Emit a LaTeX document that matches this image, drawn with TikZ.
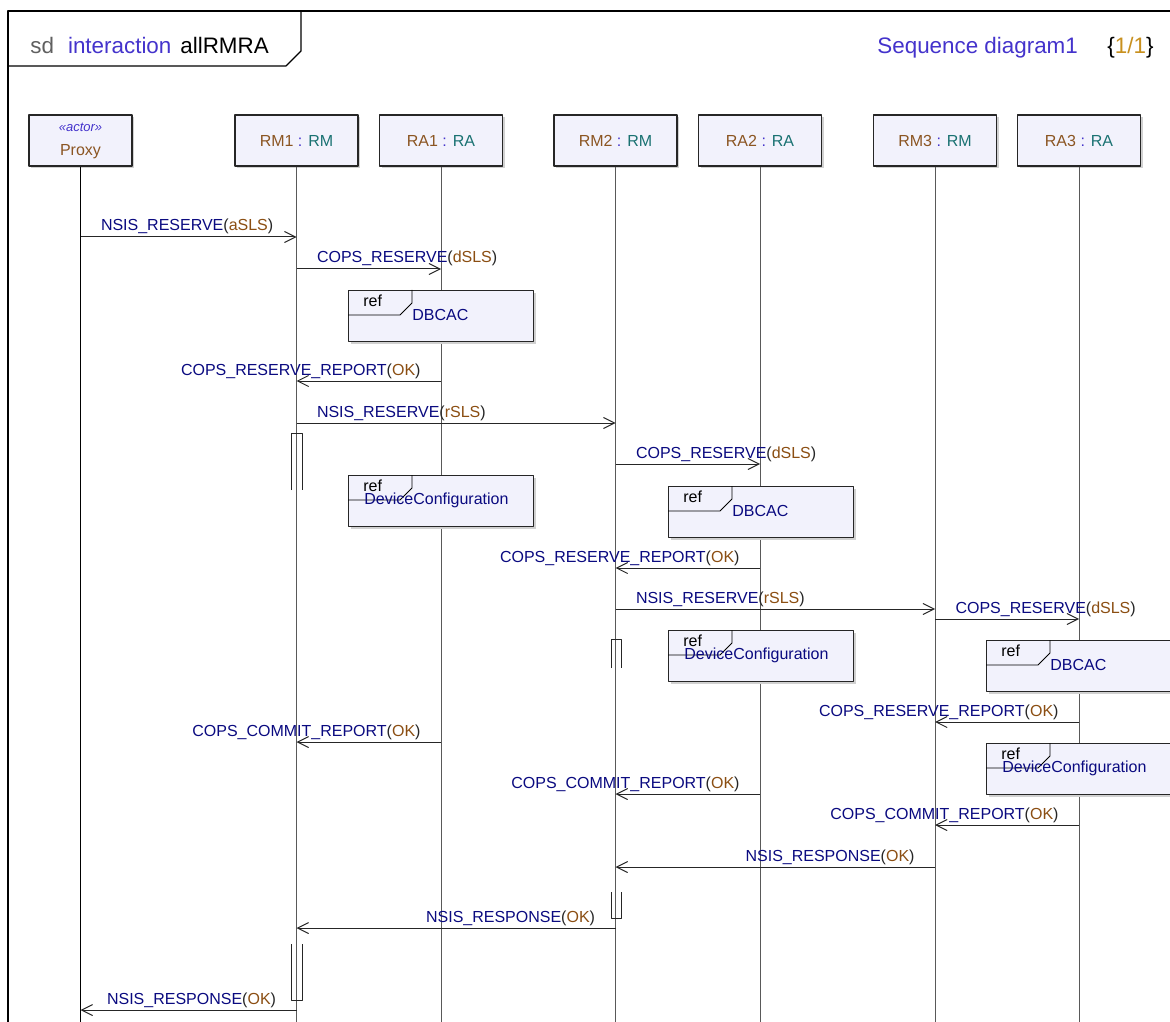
\documentclass[tikz,border=0pt]{standalone}
\usepackage{fontspec}
\setmainfont{Liberation Sans}
\usetikzlibrary{arrows.meta,calc,shadows}

\definecolor{msgblue}{HTML}{0A0A80}
\definecolor{parbrown}{HTML}{8B4E12}
\definecolor{kwblue}{HTML}{4433CC}
\definecolor{tealhd}{HTML}{1A7272}
\definecolor{brownhd}{HTML}{8B5522}
\definecolor{headfill}{HTML}{F2F2FC}
\definecolor{sdgray}{HTML}{606060}
\definecolor{goldhd}{HTML}{C8901E}

% 消息标签与生命线头
\newcommand{\mlabel}[2]{\textcolor{msgblue}{#1}(\textcolor{parbrown}{#2})}
\newcommand{\hlabel}[2]{\textcolor{brownhd}{#1} \textcolor{kwblue}{:} \textcolor{tealhd}{#2}}

% 向右 / 向左的消息
\newcommand{\msgR}[5]{\draw[msg] (#1 |- 0,#3) -- (#2 |- 0,#3)
  node[pos=0, anchor=base west, xshift=10pt, yshift=3pt, lbl] {\mlabel{#4}{#5}};}
\newcommand{\msgL}[5]{\draw[msg] (#1 |- 0,#3) -- (#2 |- 0,#3)
  node[pos=0, anchor=base east, xshift=-10pt, yshift=3pt, lbl] {\mlabel{#4}{#5}};}

% ref 框
\newcommand{\refframe}[3]{\node[refbox] (#1) at (#2,#3) {};
  \draw[thin] ($(#1.north west)+(0,25)$) -- ++(52,0) -- ++(12,-12) -- ($(#1.north west)+(64,0)$);
  \node[lbl, anchor=west, text=black] (#1t) at ($(#1.north west)+(15,11)$) {ref};}

\begin{document}
\begin{tikzpicture}[x=0.5pt, y=-0.5pt, line join=round,
    head/.style={draw=black!85, fill=headfill, line width=0.6pt, minimum width=61.5pt,
      minimum height=25.5pt, inner sep=0pt, font=\fontsize{8}{10}\selectfont,
      drop shadow={shadow xshift=1.2pt, shadow yshift=-1.2pt, fill=black!18, opacity=1}},
    refbox/.style={draw=black!85, fill=headfill, line width=0.6pt, minimum width=92.5pt,
      minimum height=25.5pt, inner sep=0pt, anchor=north west,
      drop shadow={shadow xshift=1.2pt, shadow yshift=-1.2pt, fill=black!18, opacity=1}},
    life/.style={black!65, line width=0.5pt},
    msg/.style={black!85, line width=0.5pt, -{Straight Barb[length=5.5pt, width=5.5pt]}},
    act/.style={black!85, line width=0.5pt},
    lbl/.style={inner sep=0pt, font=\fontsize{8}{10}\selectfont},
    ttl/.style={inner sep=0pt, anchor=base west, font=\fontsize{11.2}{13}\selectfont}]
    % 画布
    \useasboundingbox (0,0) rectangle (1170,1021);
    \fill[white] (0,0) rectangle (1170,1021);
    \clip (0,0) rectangle (1170,1021);

    % 外框与标题
    \draw[line width=0.75pt] (8,1100) -- (8,11) -- (1250,11);
    \draw[line width=0.6pt] (8,66) -- (286,66) -- (301,51) -- (301,11);
    \node[ttl] (title) at (30,54) {\textcolor{sdgray}{sd}\hspace{7pt}\textcolor{kwblue}{interaction}\hspace{4.5pt}allRMRA};
    \node[ttl, text=kwblue] (diag) at (877,54) {Sequence diagram1};
    \node[ttl] (page) at (1107,54) {\{\textcolor{goldhd}{1/1}\}};

    % 生命线头
    \node[head, minimum width=51.5pt, align=center] (proxy) at (80.5,140.5)
      {{\fontsize{6.5}{7}\selectfont\itshape\textcolor{kwblue}{\textless\textless actor\textgreater\textgreater}}\\[2pt]
       {\textcolor{brownhd}{Proxy}}};
    \node[head] (rm1) at (296.5,140.5) {\hlabel{RM1}{RM}};
    \node[head] (ra1) at (441,140.5) {\hlabel{RA1}{RA}};
    \node[head] (rm2) at (615.5,140.5) {\hlabel{RM2}{RM}};
    \node[head] (ra2) at (760,140.5) {\hlabel{RA2}{RA}};
    \node[head] (rm3) at (935,140.5) {\hlabel{RM3}{RM}};
    \node[head] (ra3) at (1079,140.5) {\hlabel{RA3}{RA}};

    % 生命线
    \draw[black, line width=0.5pt] (proxy.south) -- (proxy |- 0,1030);
    \foreach \n in {rm1,ra1,rm2,ra2,rm3,ra3}
      \draw[life] (\n.south) -- (\n |- 0,1030);

    % ref 交互引用
    \refframe{dbcaca}{348}{290}
    \node[lbl, anchor=west, text=msgblue] at ($(dbcaca.north west)+(64,25)$) {DBCAC};
    \refframe{devca}{348}{475}
    \node[lbl, anchor=west, text=msgblue] at ($(devca.north west)+(16,25)$) {DeviceConfiguration};
    \refframe{dbcacb}{668}{486}
    \node[lbl, anchor=west, text=msgblue] at ($(dbcacb.north west)+(64,25)$) {DBCAC};
    \refframe{devcb}{668}{630}
    \node[lbl, anchor=west, text=msgblue] at ($(devcb.north west)+(16,25)$) {DeviceConfiguration};
    \refframe{dbcacc}{986}{640}
    \node[lbl, anchor=west, text=msgblue] at ($(dbcacc.north west)+(64,25)$) {DBCAC};
    \refframe{devcc}{986}{743}
    \node[lbl, anchor=west, text=msgblue] at ($(devcc.north west)+(16,25)$) {DeviceConfiguration};

    % 消息
    \msgR{proxy}{rm1}{237}{NSIS\_RESERVE}{aSLS}
    \msgR{rm1}{ra1}{269}{COPS\_RESERVE}{dSLS}
    \msgL{ra1}{rm1}{381}{COPS\_RESERVE\_REPORT}{OK}
    \msgR{rm1}{rm2}{423}{NSIS\_RESERVE}{rSLS}
    \msgR{rm2}{ra2}{464}{COPS\_RESERVE}{dSLS}
    \msgL{ra2}{rm2}{568}{COPS\_RESERVE\_REPORT}{OK}
    \msgR{rm2}{rm3}{609}{NSIS\_RESERVE}{rSLS}
    \msgR{rm3}{ra3}{619}{COPS\_RESERVE}{dSLS}
    \msgL{ra3}{rm3}{722}{COPS\_RESERVE\_REPORT}{OK}
    \msgL{ra1}{rm1}{742}{COPS\_COMMIT\_REPORT}{OK}
    \msgL{ra2}{rm2}{794}{COPS\_COMMIT\_REPORT}{OK}
    \msgL{ra3}{rm3}{825}{COPS\_COMMIT\_REPORT}{OK}
    \msgL{rm3}{rm2}{867}{NSIS\_RESPONSE}{OK}
    \msgL{rm2}{rm1}{928}{NSIS\_RESPONSE}{OK}
    \msgL{rm1}{proxy}{1010}{NSIS\_RESPONSE}{OK}

    % 激活条
    \draw[act] (291,490) -- (291,433) -- (302,433) -- (302,490);
    \draw[act] (611,668) -- (611,639) -- (621,639) -- (621,668);
    \draw[act] (611,892) -- (611,918) -- (621,918) -- (621,892);
    \draw[act] (291,944) -- (291,1000) -- (302,1000) -- (302,944);
\end{tikzpicture}
\end{document}
